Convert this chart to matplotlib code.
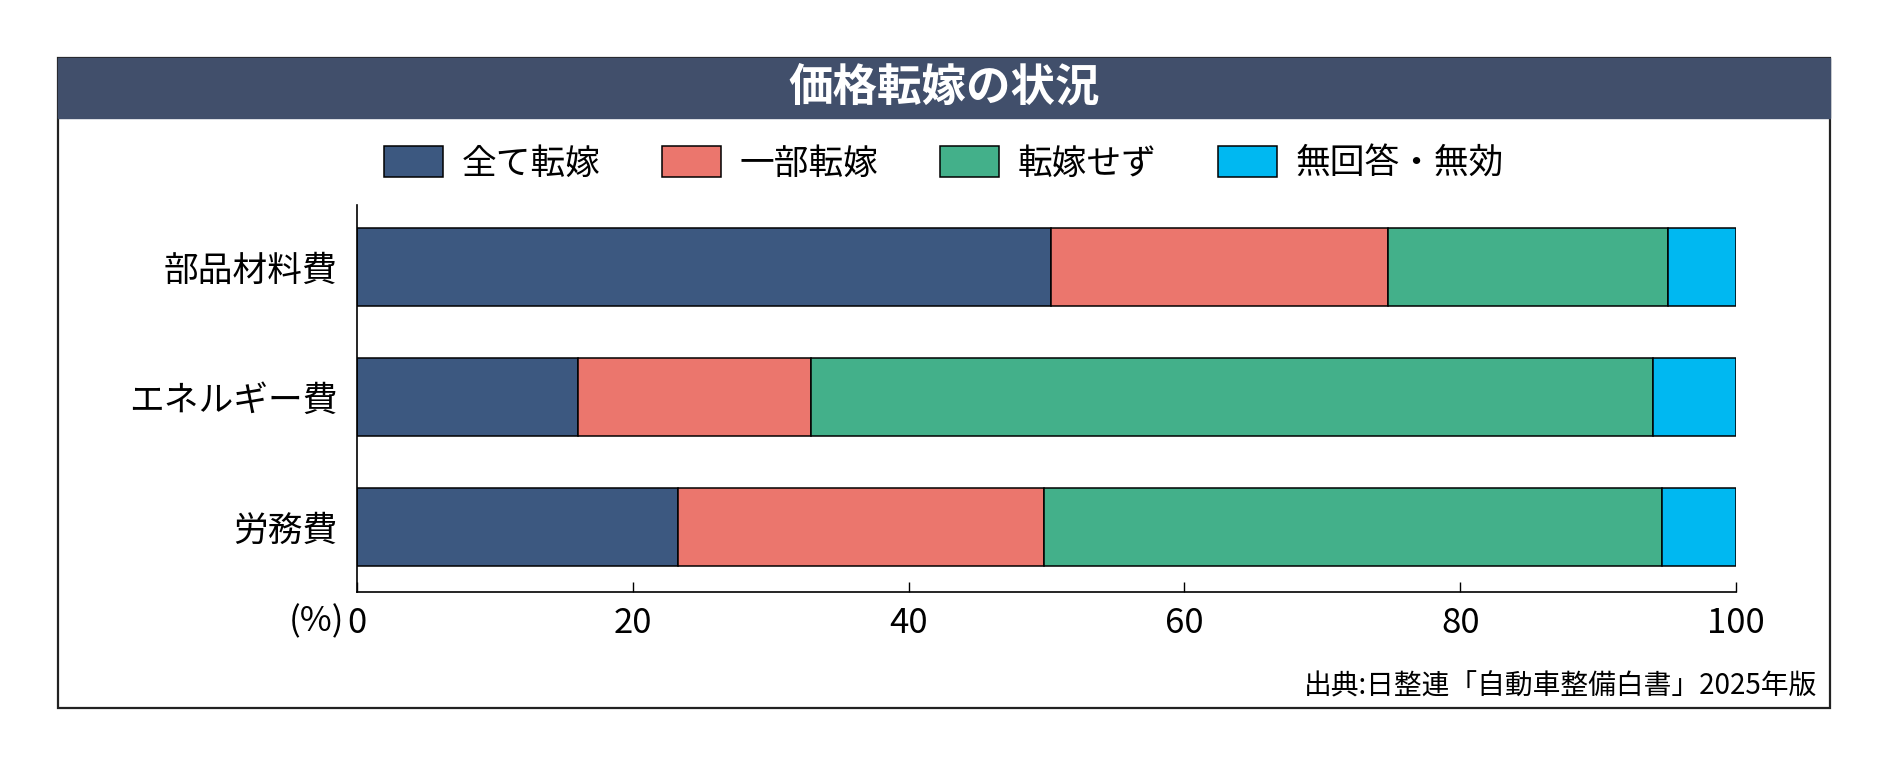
import numpy as np
import matplotlib
matplotlib.use("Agg")
import matplotlib.pyplot as plt
from matplotlib.patches import Rectangle, Patch

plt.rcParams['font.family'] = ['Noto Sans CJK JP', 'DejaVu Sans']

categories = ["部品材料費", "エネルギー費", "労務費"]
series_names = ["全て転嫁", "一部転嫁", "転嫁せず", "無回答・無効"]
all_passed = [50.3, 16.0, 23.3]
part_passed = [24.5, 16.9, 26.5]
not_passed = [20.3, 61.1, 44.8]
no_answer = [4.9, 6.0, 5.4]
xticks = [0, 20, 40, 60, 80, 100]

colors = ["#3C5880", "#EB766D", "#43B08A", "#00B8F1"]
series = [all_passed, part_passed, not_passed, no_answer]

W, H = 1890, 768
fig = plt.figure(figsize=(W / 100, H / 100), dpi=100)

# frame and title band
fig.patches.append(Rectangle((58 / W, 1 - 708 / H), 1772 / W, 650 / H,
                             transform=fig.transFigure, facecolor="white",
                             edgecolor="#222222", linewidth=1.6, zorder=-2))
fig.patches.append(Rectangle((58 / W, 1 - 118 / H), 1772 / W, 60 / H,
                             transform=fig.transFigure, facecolor="#414F6B",
                             edgecolor="#414F6B", linewidth=1, zorder=-1))
fig.text(944 / W, 1 - 88 / H, "価格転嫁の状況", color="white", fontsize=32,
         fontweight="bold", ha="center", va="center")

ax = fig.add_axes([357 / W, 1 - 592 / H, 1379 / W, 387 / H])
ax.set_zorder(2)
ax.patch.set_visible(False)
y = np.arange(len(categories))
left = np.zeros(len(categories))
for vals, name, c in zip(series, series_names, colors):
    ax.barh(y, vals, left=left, height=0.6, color=c, edgecolor="black",
            linewidth=1.1, label=name)
    left += np.array(vals)

ax.set_xlim(0, 100)
ax.set_ylim(2.5, -0.477)
ax.set_yticks(y)
ax.set_yticklabels(categories, fontsize=25)
ax.set_xticks(xticks)
ax.set_xticklabels([str(t) for t in xticks], fontsize=25)
ax.tick_params(axis="y", length=0, pad=14)
ax.tick_params(axis="x", direction="in", length=7, width=1, pad=10)
for s in ["top", "right"]:
    ax.spines[s].set_visible(False)
for s in ["left", "bottom"]:
    ax.spines[s].set_linewidth(1.2)

fig.text(344 / W, 1 - 622 / H, "(%)", fontsize=25, ha="right", va="center")

handles = [Patch(facecolor=c, edgecolor="black", linewidth=1.1) for c in colors]
fig.legend(handles, series_names, loc="center", ncol=4, frameon=False,
           bbox_to_anchor=(944 / W, 1 - 164 / H), fontsize=25,
           handlelength=1.7, handleheight=1.0, handletextpad=0.55,
           columnspacing=1.75)

fig.text(1817 / W, 1 - 686 / H, "出典:日整連「自動車整備白書」2025年版",
         fontsize=20, ha="right", va="center")

fig.savefig("out.png", dpi=100)
